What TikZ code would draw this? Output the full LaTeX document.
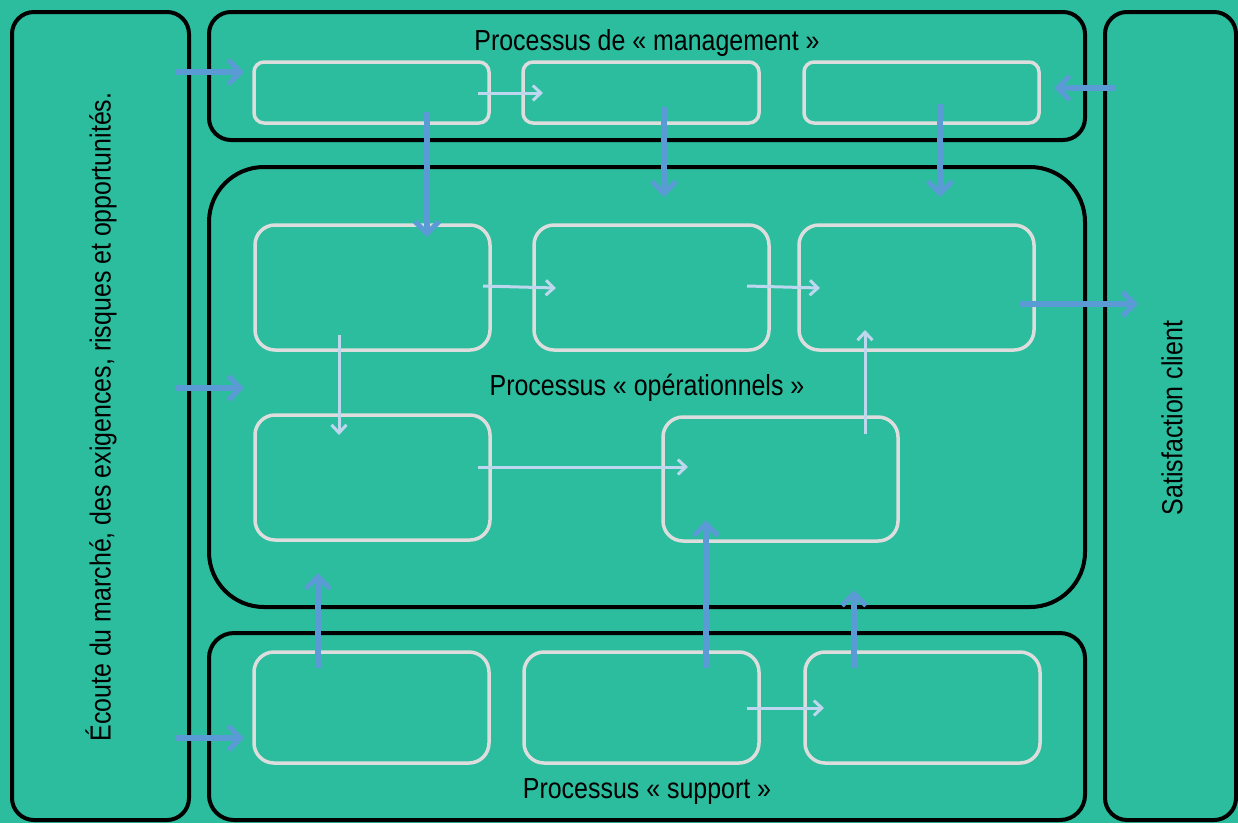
\documentclass[tikz,border=0pt]{standalone}
\usepackage{fontspec}
\setmainfont[FakeStretch=0.86]{Liberation Sans}
\usetikzlibrary{arrows.meta}
\definecolor{teal}{HTML}{2CBD9E}
\definecolor{bigarrow}{HTML}{5B9BD5}
\definecolor{smallarrow}{HTML}{BDD7EE}
\definecolor{boxline}{HTML}{DDDDDD}
\tikzset{
  group/.style={draw=black, line width=4pt, fill=teal},
  procbox/.style={draw=boxline, line width=3.5pt, rectangle, inner sep=0pt, outer sep=0pt},
  flowbig/.style={draw=bigarrow, line width=5.5pt, -{Straight Barb[length=12pt,width=24pt,line width=5pt]}},
  flowsmall/.style={draw=smallarrow, line width=3pt, -{Straight Barb[length=8pt,width=15pt,line width=3pt]}},
  label/.style={font=\fontsize{29}{32}\selectfont, inner sep=0pt}
}
\begin{document}
\begin{tikzpicture}[x=1pt,y=-1pt]
  \fill[teal] (0,0) rectangle (1238,823);
  \useasboundingbox (0,0) rectangle (1238,823);

  % outer columns and process groups
  \draw[group, rounded corners=22pt] (12,12) rectangle (189,820);
  \draw[group, rounded corners=22pt] (1105,12) rectangle (1236,820);
  \draw[group, rounded corners=22pt] (209,12) rectangle (1085,140);
  \draw[group, rounded corners=55pt] (209,167) rectangle (1085,607);
  \draw[group, rounded corners=25pt] (209,633) rectangle (1085,820);

  % group titles
  \node[label] (tman) at (647,43) {Processus de « management »};
  \node[label] (tope) at (647,388) {Processus « opérationnels »};
  \node[label] (tsup) at (647,792) {Processus « support »};
  \node[label, rotate=90] (tin) at (101,417) {Écoute du marché, des exigences, risques et opportunités.};
  \node[label, rotate=90] (tout) at (1172,418) {Satisfaction client};

  % management processes
  \node[procbox, rounded corners=10pt, minimum width=235pt, minimum height=61pt] (m1) at (371.5,92.5) {};
  \node[procbox, rounded corners=10pt, minimum width=236pt, minimum height=61pt] (m2) at (641,92.5) {};
  \node[procbox, rounded corners=10pt, minimum width=235pt, minimum height=61pt] (m3) at (921.5,92.5) {};

  % operational processes
  \node[procbox, rounded corners=20pt, minimum width=235pt, minimum height=125pt] (o1) at (372.5,287.5) {};
  \node[procbox, rounded corners=20pt, minimum width=235pt, minimum height=125pt] (o2) at (651.5,287.5) {};
  \node[procbox, rounded corners=20pt, minimum width=235pt, minimum height=125pt] (o3) at (916.5,287.5) {};
  \node[procbox, rounded corners=20pt, minimum width=235pt, minimum height=125pt] (o4) at (372.5,477.5) {};
  \node[procbox, rounded corners=20pt, minimum width=235pt, minimum height=124pt] (o5) at (780.5,479) {};

  % support processes
  \node[procbox, rounded corners=20pt, minimum width=235pt, minimum height=111pt] (s1) at (371.5,707.5) {};
  \node[procbox, rounded corners=20pt, minimum width=235pt, minimum height=111pt] (s2) at (641.5,707.5) {};
  \node[procbox, rounded corners=20pt, minimum width=235pt, minimum height=111pt] (s3) at (922.5,707.5) {};

  % connector end points
  \coordinate (inA) at (176,72);   \coordinate (inAe) at (244,72);
  \coordinate (inB) at (176,388);  \coordinate (inBe) at (244,388);
  \coordinate (inC) at (176,738);  \coordinate (inCe) at (244,738);
  \coordinate (fbk) at (1116,88);  \coordinate (fbke) at (1054,88);
  \coordinate (ress) at (1020,304); \coordinate (res) at (1138,304);
  \coordinate (d1s) at (427,112);  \coordinate (d1) at (427,237);
  \coordinate (d2s) at (664,107);  \coordinate (d2) at (664,197);
  \coordinate (d3s) at (940,104);  \coordinate (d3) at (940,197);
  \coordinate (u1s) at (318,668);  \coordinate (u1) at (318,573);
  \coordinate (u2s) at (706,668);  \coordinate (u2) at (706,520);
  \coordinate (u3s) at (854,668);  \coordinate (u3) at (854,590);
  \coordinate (f1s) at (478,93);   \coordinate (f1) at (543,93);
  \coordinate (f2s) at (483,286);  \coordinate (f2) at (556,288);
  \coordinate (f3s) at (747,286);  \coordinate (f3) at (820,288);
  \coordinate (f4s) at (339,335);  \coordinate (f4) at (339,435);
  \coordinate (f5s) at (478,467);  \coordinate (f5) at (688,467);
  \coordinate (f6s) at (865,434);  \coordinate (f6) at (865,330);
  \coordinate (f7s) at (747,708);  \coordinate (f7) at (824,708);

  % inputs, feedback and output
  \draw[flowbig] (inA) -- (inAe);
  \draw[flowbig] (inB) -- (inBe);
  \draw[flowbig] (inC) -- (inCe);
  \draw[flowbig] (fbk) -- (fbke);
  \draw[flowbig] (ress) -- (res);

  % management steering the operations
  \draw[flowbig] (d1s) -- (d1);
  \draw[flowbig] (d2s) -- (d2);
  \draw[flowbig] (d3s) -- (d3);

  % support feeding the operations
  \draw[flowbig] (u1s) -- (u1);
  \draw[flowbig] (u2s) -- (u2);
  \draw[flowbig] (u3s) -- (u3);

  % flows between processes
  \draw[flowsmall] (f1s) -- (f1);
  \draw[flowsmall] (f2s) -- (f2);
  \draw[flowsmall] (f3s) -- (f3);
  \draw[flowsmall] (f4s) -- (f4);
  \draw[flowsmall] (f5s) -- (f5);
  \draw[flowsmall] (f6s) -- (f6);
  \draw[flowsmall] (f7s) -- (f7);
\end{tikzpicture}
\end{document}
